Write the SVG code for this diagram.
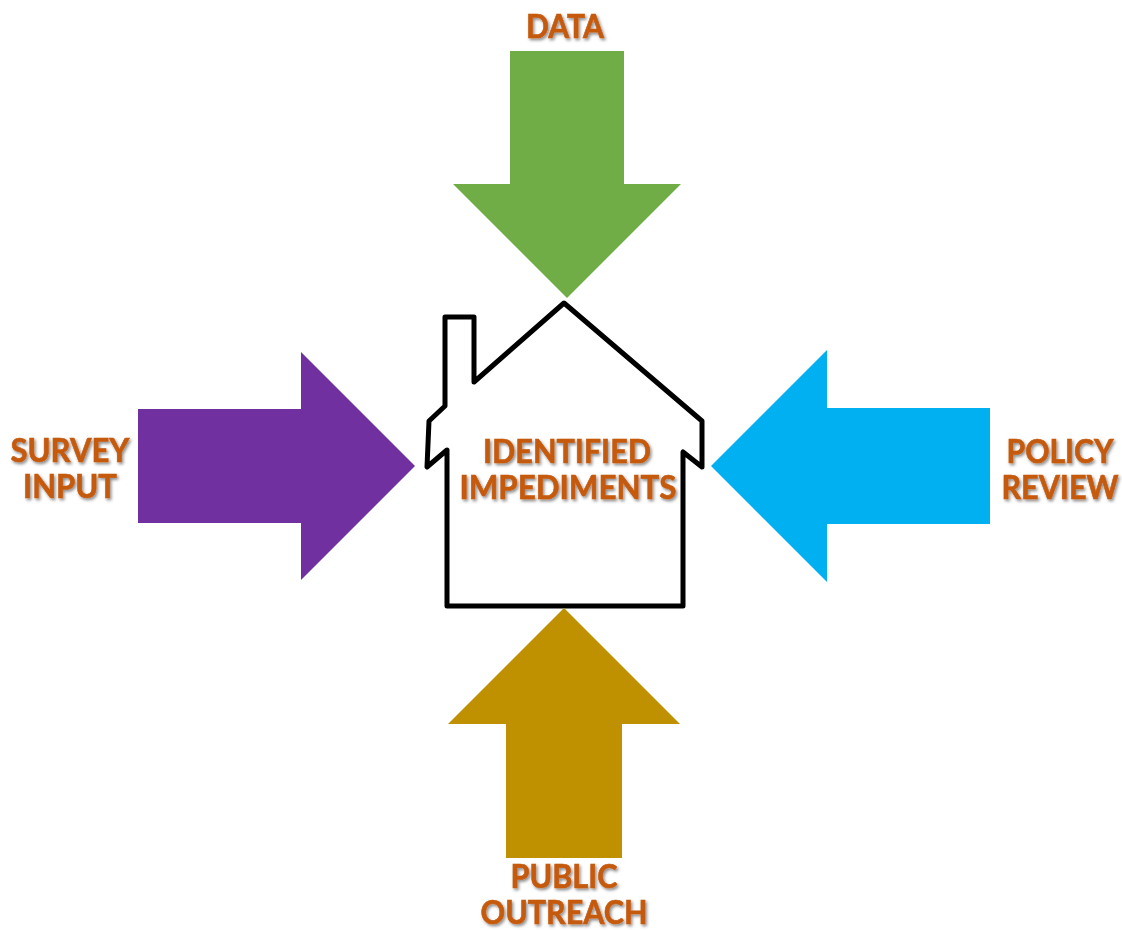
<svg xmlns="http://www.w3.org/2000/svg" width="1122" height="930" viewBox="0 0 1122 930">
<defs>
<filter id="ts" x="-10%" y="-20%" width="120%" height="140%"><feDropShadow dx="1.5" dy="2" stdDeviation="1.5" flood-color="#000" flood-opacity="0.45"/></filter>
</defs>
<style>
text{font-family:"Lato","Carlito","Liberation Sans",sans-serif;font-weight:700;font-size:32px;fill:#c55a11;stroke:#c55a11;stroke-width:0.6;text-anchor:middle;filter:url(#ts)}
.house{fill:#fff;stroke:#000;stroke-width:5;stroke-linejoin:round}
</style>
<rect width="1122" height="930" fill="#fff"/>
<g id="house"><path class="house" d="M445 317H474V382L564 303L702 421V467L683 452V606H447V450L427 467L429 421L445 406Z"/>
<text x="567" y="463" textLength="168" lengthAdjust="spacingAndGlyphs">IDENTIFIED</text>
<text x="568" y="499" textLength="217" lengthAdjust="spacingAndGlyphs">IMPEDIMENTS</text></g>
<g id="connectors">
<polygon id="arrow-data" fill="#70ad47" points="510,51 624,51 624,184 681,184 567,298 453,184 510,184"/>
<polygon id="arrow-survey" fill="#7030a0" points="138,409 301,409 301,352 415,466 301,580 301,523 138,523"/>
<polygon id="arrow-policy" fill="#00b0f0" points="990,408 827,408 827,350 711,466 827,582 827,524 990,524"/>
<polygon id="arrow-outreach" fill="#bf9000" points="506,858 622,858 622,724 680,724 564,608 448,724 506,724"/>
</g>
<g id="data"><text x="565" y="38" textLength="78" lengthAdjust="spacingAndGlyphs">DATA</text></g>
<g id="survey"><text x="70" y="462" textLength="119" lengthAdjust="spacingAndGlyphs">SURVEY</text><text x="70" y="498" textLength="94" lengthAdjust="spacingAndGlyphs">INPUT</text></g>
<g id="policy"><text x="1060" y="463" textLength="107" lengthAdjust="spacingAndGlyphs">POLICY</text><text x="1060" y="499" textLength="117" lengthAdjust="spacingAndGlyphs">REVIEW</text></g>
<g id="outreach"><text x="564" y="887.5" textLength="107" lengthAdjust="spacingAndGlyphs">PUBLIC</text><text x="564" y="923.5" textLength="167" lengthAdjust="spacingAndGlyphs">OUTREACH</text></g>
</svg>
